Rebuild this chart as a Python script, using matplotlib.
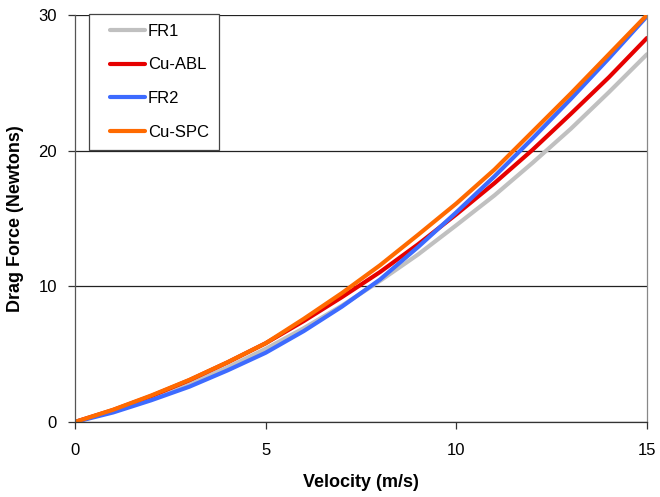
import matplotlib.pyplot as plt
from matplotlib.legend_handler import HandlerLine2D
import numpy as np

plt.rcParams['font.family'] = ['Liberation Sans', 'DejaVu Sans']

velocity = [0, 1, 2, 3, 4, 5, 6, 7, 8, 9, 10, 11, 12, 13, 14, 15]
fr1 = [0, 0.79, 1.72, 2.80, 4.02, 5.39, 6.91, 8.57, 10.4, 12.35, 14.5, 16.7, 19.1, 21.6, 24.3, 27.1]
cu_abl = [0, 0.88, 1.91, 3.08, 4.39, 5.8, 7.44, 9.2, 11.05, 13.1, 15.3, 17.6, 20.06, 22.7, 25.4, 28.3]
fr2 = [0, 0.7, 1.6, 2.6, 3.8, 5.1, 6.7, 8.5, 10.5, 12.9, 15.45, 18.1, 20.9, 23.8, 26.8, 29.9]
cu_spc = [0, 0.9, 1.95, 3.1, 4.4, 5.8, 7.6, 9.5, 11.55, 13.8, 16.1, 18.6, 21.4, 24.2, 27.1, 30.0]

fig = plt.figure(figsize=(6.6, 4.97), dpi=100)
ax = fig.add_axes([0.1136, 0.151, 0.8667, 0.819])

l1, = ax.plot(velocity, fr1, color='#C0C0C0', lw=3, label='FR1', solid_capstyle='round')
l2, = ax.plot(velocity, cu_abl, color='#E60000', lw=3, label='Cu-ABL', solid_capstyle='round')
l3, = ax.plot(velocity, fr2, color='#3D6BFF', lw=3, label='FR2', solid_capstyle='round')
l4, = ax.plot(velocity, cu_spc, color='#FF6A00', lw=3, label='Cu-SPC', solid_capstyle='round')

ax.set_xlim(0, 15)
ax.set_ylim(0, 30)
ax.set_xticks([0, 5, 10, 15])
ax.set_yticks([0, 10, 20, 30])
ax.yaxis.grid(True, color='#222222', lw=0.9)
ax.set_axisbelow(True)
ax.tick_params(direction='out', length=5, width=0.9, colors='#333333',
               labelsize=12, labelcolor='black')
ax.tick_params(axis='x', pad=10)
ax.tick_params(axis='y', pad=8)

ax.spines['top'].set_visible(False)
ax.spines['right'].set_color('#888888')
ax.spines['left'].set_color('#555555')
ax.spines['bottom'].set_color('#333333')
for s in ax.spines.values():
    s.set_linewidth(0.9)

ax.set_xlabel('Velocity (m/s)', fontsize=13, fontweight='bold', labelpad=12)
ax.set_ylabel('Drag Force (Newtons)', fontsize=13, fontweight='bold', labelpad=10)

hmap = {h: HandlerLine2D(xpad=0.65) for h in (l1, l2, l3, l4)}
leg = ax.legend(loc='upper left', bbox_to_anchor=(0.024, 1.003), borderaxespad=0,
                fontsize=12, handlelength=2.75, handletextpad=0.2, labelspacing=1.12,
                borderpad=0.6, fancybox=False, framealpha=1, edgecolor='#444444',
                handler_map=hmap)
leg.get_frame().set_linewidth(0.9)

fig.savefig('out.png', dpi=100)
